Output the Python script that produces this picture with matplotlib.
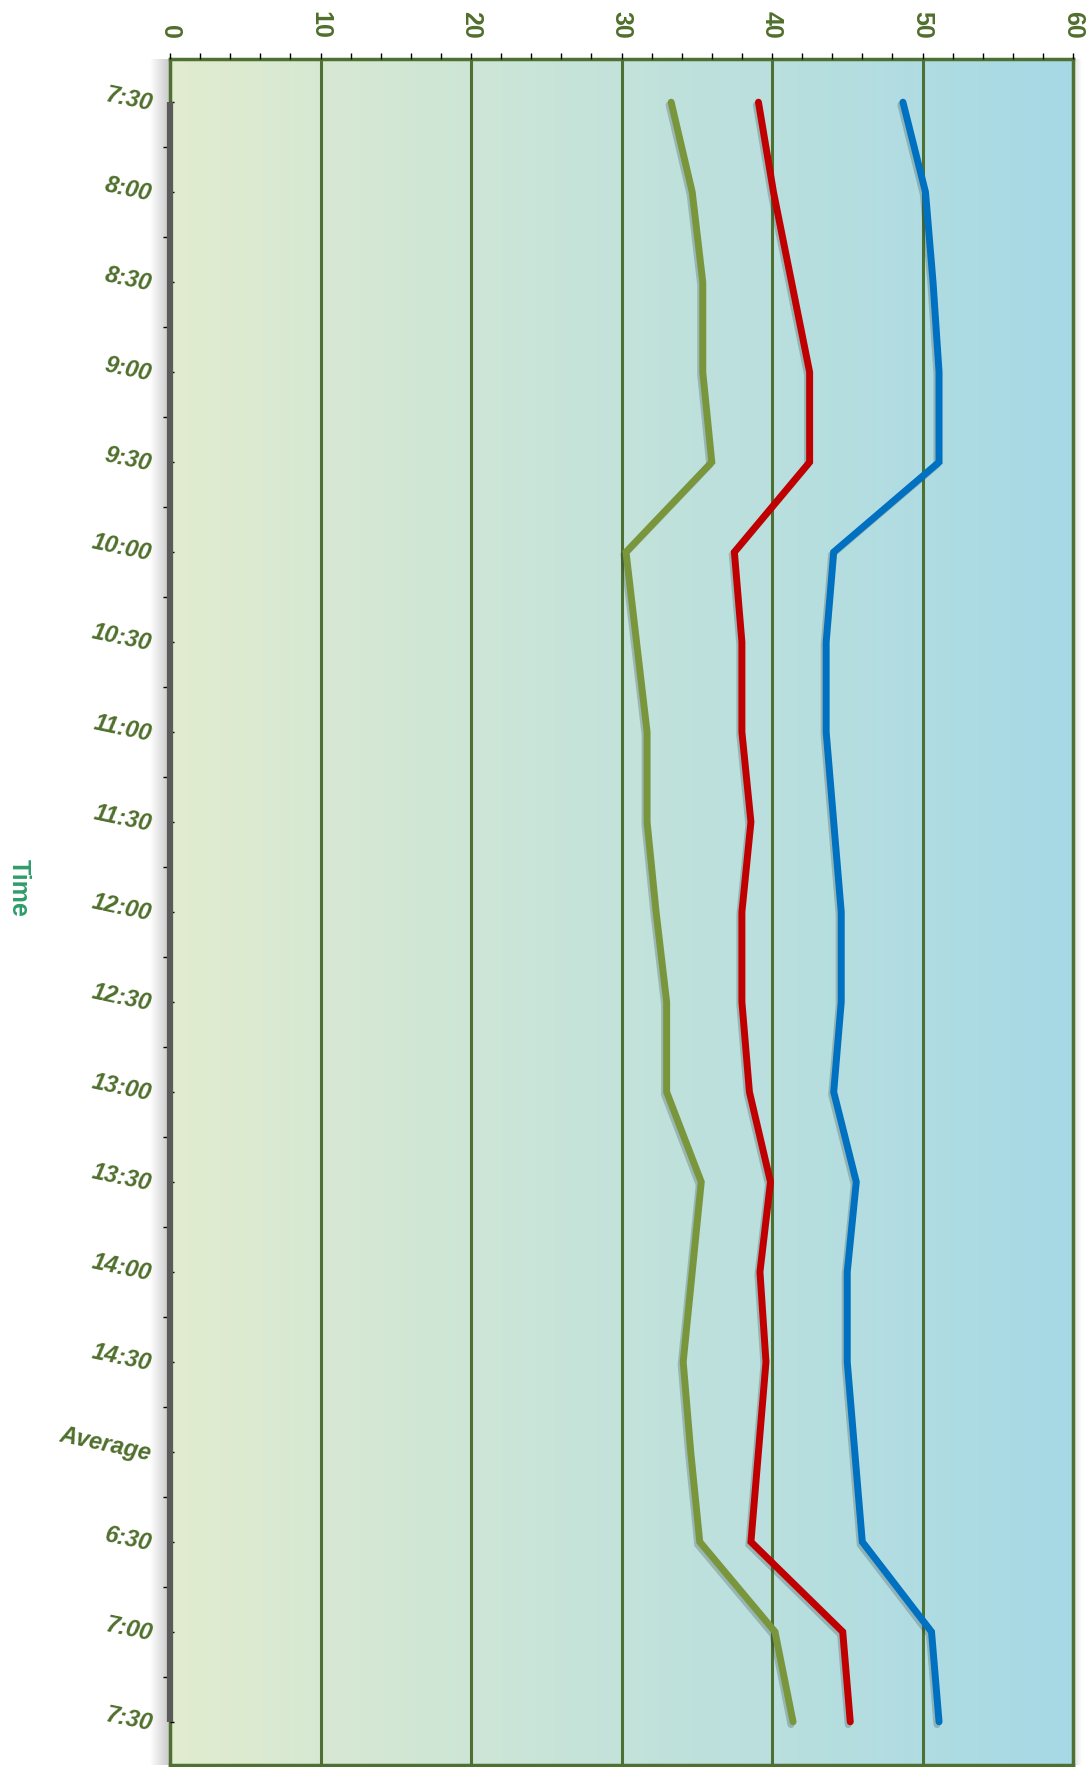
import numpy as np
import matplotlib
matplotlib.use('Agg')
import matplotlib.pyplot as plt
import matplotlib.patheffects as pe
from matplotlib.ticker import MultipleLocator, FixedLocator
from matplotlib.colors import LinearSegmentedColormap

# Data (horizontal value axis 0-60, categories down the side)
categories = ['7:30', '8:00', '8:30', '9:00', '9:30', '10:00', '10:30', '11:00', '11:30',
              '12:00', '12:30', '13:00', '13:30', '14:00', '14:30', 'Average', '6:30', '7:00', '7:30']
series_green = [33.3, 34.7, 35.4, 35.4, 36.0, 30.3, 31.0, 31.7, 31.7, 32.3,
                33.0, 33.0, 35.3, 34.7, 34.1, 34.6, 35.2, 40.2, 41.4]
series_red = [39.1, 40.1, 41.3, 42.5, 42.5, 37.5, 38.0, 38.0, 38.6, 38.0,
              38.0, 38.5, 39.9, 39.2, 39.6, 39.1, 38.6, 44.7, 45.2]
series_blue = [48.7, 50.2, 50.7, 51.1, 51.1, 44.1, 43.6, 43.6, 44.1, 44.6,
               44.6, 44.1, 45.6, 45.0, 45.0, 45.5, 46.0, 50.6, 51.1]

text_green = '#4F6F2C'
frame_green = '#4E7032'

W, H = 1088, 1767
TOP, BOT = 59, 1765   # plot area edges, pixels from the top
fig = plt.figure(figsize=(W / 100, H / 100), dpi=100)

# soft shadow strips around the plot area
def strip(x0, x1, c_from, c_to):
    sax = fig.add_axes([x0 / W, (H - BOT) / H, (x1 - x0) / W, (BOT - TOP) / H], zorder=0)
    cm = LinearSegmentedColormap.from_list('s', [c_from, c_to])
    sax.imshow(np.linspace(0, 1, 64).reshape(1, -1), cmap=cm, aspect='auto')
    sax.axis('off')

strip(150, 170, '#ffffff', '#c8c8c8')
strip(1073, 1082, '#dedede', '#ffffff')

ax = fig.add_axes([170 / W, (H - BOT) / H, (1073 - 170) / W, (BOT - TOP) / H], zorder=1)

# background gradient
bg = LinearSegmentedColormap.from_list('bg', ['#E1ECCF', '#A6D9E6'])
ax.imshow(np.linspace(0, 1, 256).reshape(1, -1), cmap=bg, aspect='auto',
          extent=[0, 60, -0.48, 18.48], zorder=0)

y = np.arange(len(categories))
shadow = [pe.SimpleLineShadow(offset=(-1.5, -2), shadow_color='#2a3a3a', alpha=0.25), pe.Normal()]
for vals, col in [(series_green, '#7A963C'), (series_red, '#C00000'), (series_blue, '#0070C0')]:
    ax.plot(vals, y, color=col, lw=5, solid_capstyle='round', solid_joinstyle='miter',
            path_effects=shadow, zorder=3)

ax.set_xlim(0, 60)
ax.set_ylim(18.48, -0.48)

# gray category axis bar
ax.plot([0, 0], [0, 18], color='#5A5A5A', lw=4.5, solid_capstyle='butt', clip_on=False, zorder=4)

# value axis on top
ax.xaxis.tick_top()
ax.xaxis.set_major_locator(MultipleLocator(10))
ax.xaxis.set_minor_locator(MultipleLocator(2))
ax.tick_params(axis='x', which='both', direction='out', length=4.5, width=1, color='black')
ax.tick_params(axis='x', which='major', pad=10, labelsize=18, labelcolor=text_green)
for lab in ax.get_xticklabels():
    lab.set_rotation(-90)
    lab.set_fontweight('bold')
    lab.set_fontfamily('Liberation Sans')

# category axis
ax.set_yticks(y)
ax.set_yticklabels(categories)
ax.yaxis.set_minor_locator(FixedLocator(y[:-1] + 0.5))
ax.tick_params(axis='y', which='major', direction='in', length=3, width=1, color='black',
               pad=13, labelsize=17, labelcolor=text_green)
ax.tick_params(axis='y', which='minor', direction='out', length=5, width=1, color='black')
for lab in ax.get_yticklabels():
    lab.set_rotation(-12)
    lab.set_rotation_mode('anchor')
    lab.set_fontweight('bold')
    lab.set_fontstyle('italic')
    lab.set_fontfamily('Liberation Sans')

ax.grid(axis='x', which='major', color=frame_green, lw=2.2, zorder=1)
ax.set_axisbelow(False)
for sp in ax.spines.values():
    sp.set_color(frame_green)
    sp.set_linewidth(2.5)

fig.text(19 / W, 1 - 888 / H, 'Time', rotation=-90, ha='center', va='center',
         fontsize=18, fontweight='bold', color='#2E9C6A', family='Liberation Sans')

fig.savefig('out.png', dpi=100)
